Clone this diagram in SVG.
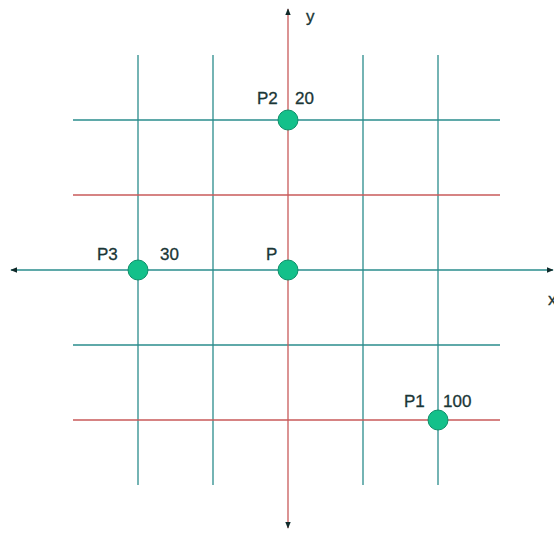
<svg xmlns="http://www.w3.org/2000/svg" width="554" height="534" viewBox="0 0 554 534">
<style>
.teal{stroke:#2a8c8c;stroke-width:1.3;fill:none}
.red{stroke:#c85a5a;stroke-width:1.3;fill:none}
.axis{stroke-width:1.3;fill:none}
.node{fill:#14c08a;stroke:#0f8f6a;stroke-width:1}
.lbl{font-family:"Liberation Sans",Arial,sans-serif;font-size:17px;fill:#1a3636;stroke:#1a3636;stroke-width:0.3}
</style>
<defs>
<marker id="arr" viewBox="0 0 10 10" refX="9" refY="5" markerWidth="7" markerHeight="7" orient="auto-start-reverse" markerUnits="userSpaceOnUse">
<path d="M0,1 L10,5 L0,9 Z" fill="#102a2a"/>
</marker>
</defs>
<rect width="554" height="534" fill="#ffffff"/>
<g id="connectors">
<line class="teal" x1="138" y1="55" x2="138" y2="485"/>
<line class="teal" x1="213" y1="55" x2="213" y2="485"/>
<line class="teal" x1="363" y1="55" x2="363" y2="485"/>
<line class="teal" x1="438" y1="55" x2="438" y2="485"/>
<line class="teal" x1="73" y1="120" x2="500" y2="120"/>
<line class="red" x1="73" y1="195" x2="500" y2="195"/>
<line class="teal" x1="73" y1="345" x2="500" y2="345"/>
<line class="red" x1="73" y1="420" x2="500" y2="420"/>
<line class="teal axis" x1="11" y1="270" x2="553" y2="270" marker-start="url(#arr)" marker-end="url(#arr)"/>
<line class="red axis" x1="288" y1="9" x2="288" y2="528" marker-start="url(#arr)" marker-end="url(#arr)"/>
</g>
<text class="lbl" x="306" y="22">y</text>
<text class="lbl" x="548" y="305">x</text>
<g id="P2">
<circle class="node" cx="288" cy="120" r="10"/>
<text class="lbl" x="257" y="104">P2</text>
<text class="lbl" x="295" y="104">20</text>
</g>
<g id="P3">
<circle class="node" cx="138" cy="270" r="10"/>
<text class="lbl" x="97" y="260">P3</text>
<text class="lbl" x="160" y="260">30</text>
</g>
<g id="P">
<circle class="node" cx="288" cy="270" r="10"/>
<text class="lbl" x="266" y="260">P</text>
</g>
<g id="P1">
<circle class="node" cx="438" cy="420" r="10"/>
<text class="lbl" x="404" y="407">P1</text>
<text class="lbl" x="443" y="407">100</text>
</g>
</svg>
